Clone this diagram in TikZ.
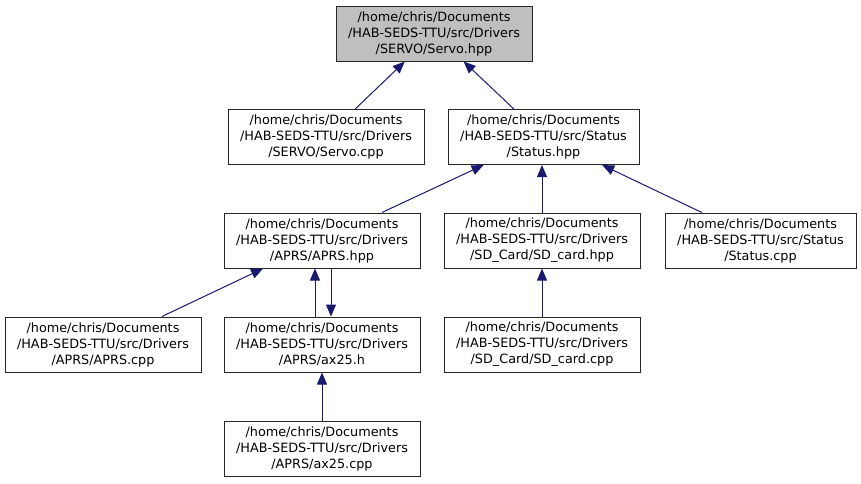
\documentclass[tikz,border=0pt]{standalone}
\usepackage{fontspec}
\setmainfont{DejaVu Sans}
\usetikzlibrary{arrows.meta}
\definecolor{edgeblue}{RGB}{25,25,112}
\definecolor{rootgray}{RGB}{191,191,191}

\begin{document}
\begin{tikzpicture}[
      x=0.75pt, y=-0.75pt,
      font=\fontsize{9.6}{12}\selectfont,
      file/.style={draw=black!85, line width=0.75pt, fill=white, align=center, inner sep=2pt, minimum width=147pt, minimum height=41.25pt},
      narrow/.style={file, minimum width=143.25pt},
      root/.style={file, fill=rootgray},
      arrow/.style={{Triangle[length=9pt, width=7.5pt]}-, edgeblue, line width=0.75pt}
    ]
    \useasboundingbox (0,0) rectangle (861,483);

    % Level 0
    \node[root] (servohpp) at (434,33.5) {/home/chris/Documents\\/HAB-SEDS-TTU/src/Drivers\\/SERVO/Servo.hpp};

    % Level 1
    \node[file]   (servocpp)  at (326,137)   {/home/chris/Documents\\/HAB-SEDS-TTU/src/Drivers\\/SERVO/Servo.cpp};
    \node[narrow] (statushpp) at (543.5,137) {/home/chris/Documents\\/HAB-SEDS-TTU/src/Status\\/Status.hpp};

    % Level 2
    \node[file]   (aprshpp)   at (322,240.5)   {/home/chris/Documents\\/HAB-SEDS-TTU/src/Drivers\\/APRS/APRS.hpp};
    \node[file]   (sdhpp)     at (542,240.5)   {/home/chris/Documents\\/HAB-SEDS-TTU/src/Drivers\\/SD\_Card/SD\_card.hpp};
    \node[narrow] (statuscpp) at (760.5,240.5) {/home/chris/Documents\\/HAB-SEDS-TTU/src/Status\\/Status.cpp};

    % Level 3
    \node[file] (aprscpp) at (103,344.5) {/home/chris/Documents\\/HAB-SEDS-TTU/src/Drivers\\/APRS/APRS.cpp};
    \node[file] (ax25h)   at (322,344.5) {/home/chris/Documents\\/HAB-SEDS-TTU/src/Drivers\\/APRS/ax25.h};
    \node[file] (sdcpp)   at (542,344.5) {/home/chris/Documents\\/HAB-SEDS-TTU/src/Drivers\\/SD\_Card/SD\_card.cpp};

    % Level 4
    \node[file] (ax25cpp) at (322,448.5) {/home/chris/Documents\\/HAB-SEDS-TTU/src/Drivers\\/APRS/ax25.cpp};

    % Includes
    \draw[arrow] (servohpp) -- (servocpp);
    \draw[arrow] (servohpp) -- (statushpp);
    \draw[arrow] (statushpp) -- (aprshpp);
    \draw[arrow] (statushpp.south -| sdhpp.north) -- (sdhpp.north);
    \draw[arrow] (statushpp) -- (statuscpp);
    \draw[arrow] (aprshpp) -- (aprscpp);
    \draw[arrow] ([xshift=-5.25pt]aprshpp.south) -- ([xshift=-5.25pt]ax25h.north);
    \draw[arrow] ([xshift=6.75pt]ax25h.north) -- ([xshift=6.75pt]aprshpp.south);
    \draw[arrow] (ax25h) -- (ax25cpp);
    \draw[arrow] (sdhpp) -- (sdcpp);
  \end{tikzpicture}
\end{document}
